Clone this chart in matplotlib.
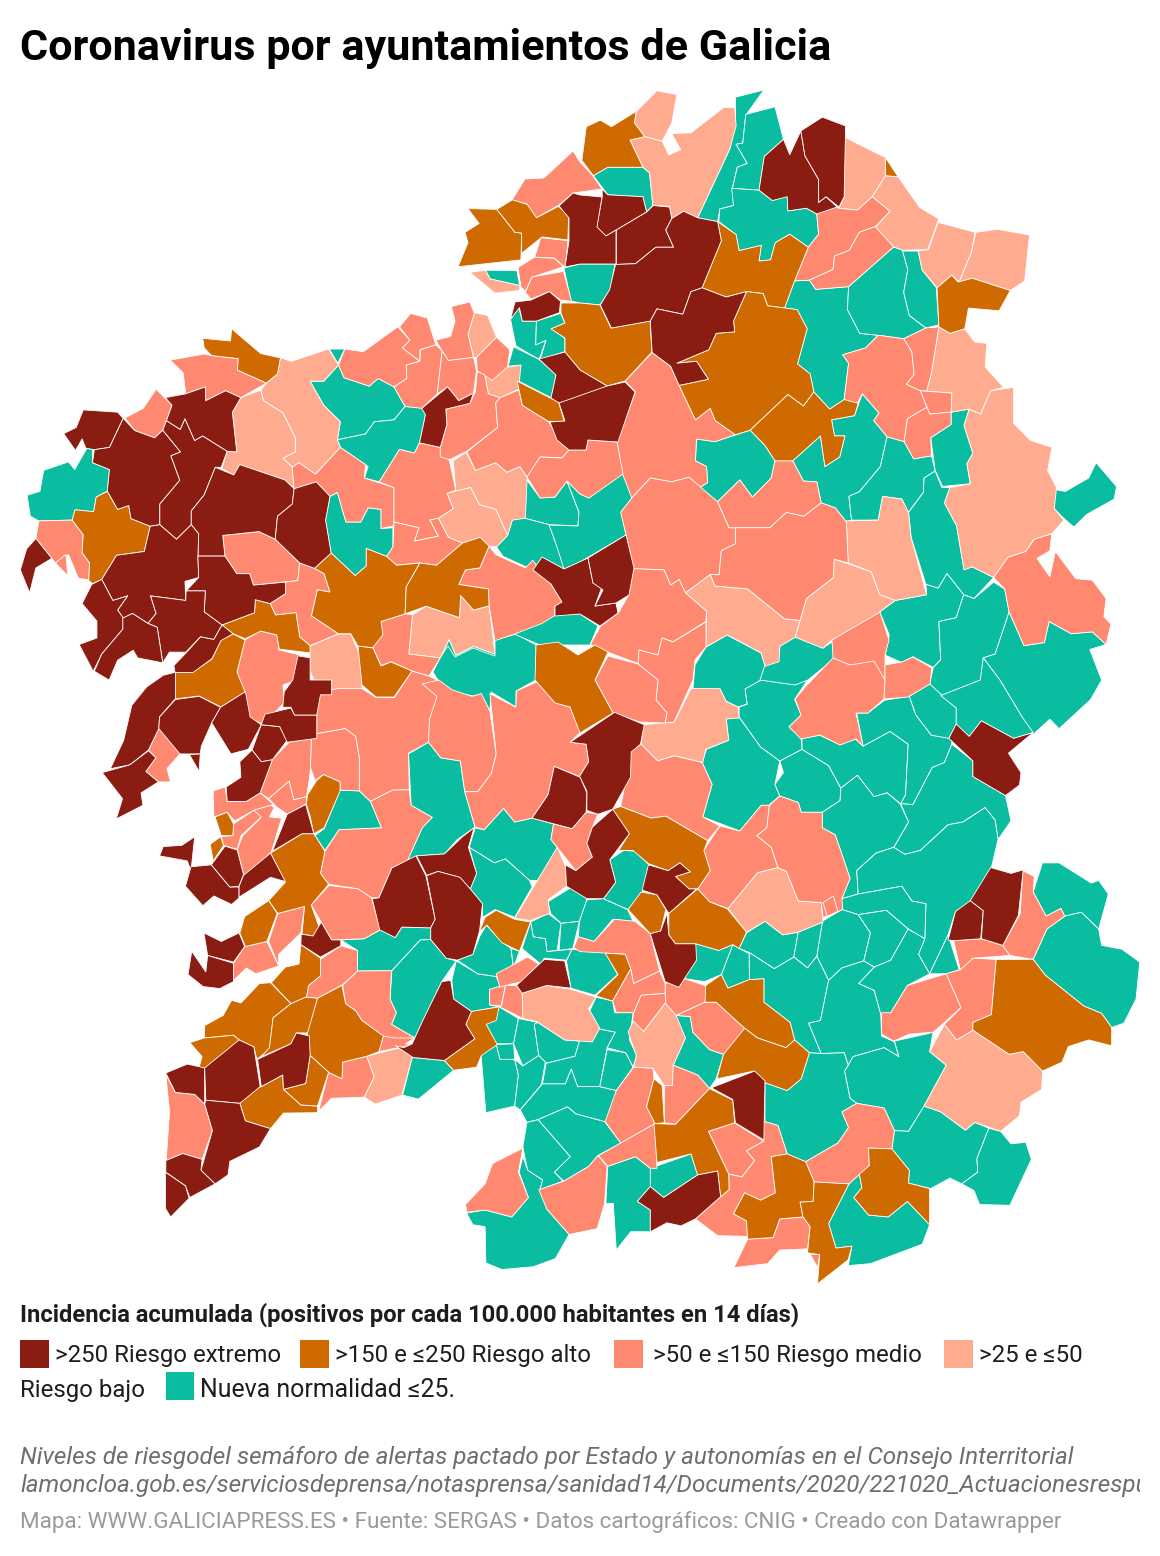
import numpy as np
import matplotlib
matplotlib.use('Agg')
import matplotlib.pyplot as plt
from matplotlib.collections import PolyCollection
from matplotlib.patches import Rectangle

# municipality outlines, traced as flat x,y lists from four map sheets
# every sheet has its own origin and scale, see SHEETS below

# ---------- north-west sheet
EXTREMO_NW = [
 [225,862,318,868,333,884,296,960,255,966,232,962,222,938,204,968,172,924,206,908],
 [333,884,364,916,418,935,440,915,488,972,462,982,486,1046,432,1108,432,1162,406,1166,354,1146,348,1112,318,1122,290,1074,296,1018,250,1000,255,966,296,960],
 [440,915,450,890,487,913,500,885,526,942,548,930,614,970,598,1012,582,1012,552,1084,517,1126,517,1162,477,1200,432,1162,432,1108,486,1046,462,982,488,972],
 [447,830,502,820,555,802,556,838,610,812,651,830,628,868,640,972,614,970,548,930,526,942,500,885,487,913,450,890,465,850],
 [582,1012,632,1032,648,1005,770,1045,795,1068,790,1108,750,1140,744,1200,700,1180,602,1190,608,1244,535,1244,537,1186,517,1162,517,1126,552,1084],
 [795,1068,855,1050,892,1088,880,1150,895,1236,850,1276,810,1262,744,1200,750,1140,790,1108],
 [406,1166,432,1162,477,1200,517,1162,537,1186,535,1244,537,1300,500,1310,502,1360,407,1348,422,1394,400,1420,358,1394,333,1406,318,1385,345,1348,305,1360,275,1305,315,1242,390,1232],
 [275,1305,305,1360,345,1348,318,1385,333,1406,332,1435,275,1500,252,1545,214,1475,262,1458,262,1414,222,1368,248,1318],
 [535,1244,608,1244,640,1290,675,1290,685,1320,772,1312,772,1342,730,1368,690,1358,688,1392,600,1424,552,1390,555,1335,503,1335,537,1300],
 [407,1348,502,1360,503,1335,555,1335,552,1390,600,1424,578,1462,542,1455,502,1495,458,1495,440,1523,425,1430,400,1420,422,1394],
 [332,1406,358,1394,400,1420,425,1430,440,1523,372,1510,360,1490,318,1516,295,1568,255,1545,275,1500,332,1435],
 [97,1198,140,1250,97,1275,80,1340,55,1280,72,1225],
 [1140,858,1210,802,1240,838,1280,818,1270,845,1205,860,1208,900,1190,960,1134,948,1150,875],
 [1392,580,1435,575,1485,553,1515,578,1512,608,1450,630,1412,630,1404,595,1380,625],
 [470,1530,500,1500,542,1455,578,1462,600,1424,630,1447,597,1465,573,1512,522,1548,473,1548],
]
ALTO_NW = [
 [548,675,623,682,626,650,705,715,758,726,750,768,720,792,642,758,644,728,572,720,552,700],
 [290,1075,318,1122,348,1112,354,1146,406,1166,390,1232,315,1242,275,1305,250,1316,240,1308,242,1262,222,1235,225,1188,195,1150,203,1123,253,1128,260,1090],
 [1265,336,1343,338,1392,398,1410,400,1408,470,1238,488,1265,425,1257,398,1295,375],
 [1343,338,1385,313,1425,325,1450,360,1510,330,1537,355,1535,418,1465,410,1410,453,1410,400,1392,398],
 [850,1276,895,1236,960,1295,990,1270,990,1224,1045,1245,1072,1268,1135,1262,1098,1325,1095,1395,1030,1415,1035,1450,1008,1483,968,1480,948,1447,915,1447,842,1400,858,1332,892,1338,876,1290],
 [1135,1262,1180,1268,1250,1210,1298,1195,1322,1218,1297,1275,1258,1280,1240,1318,1320,1330,1322,1374,1280,1385,1245,1347,1242,1405,1152,1375,1095,1395,1098,1325],
 [600,1424,688,1392,690,1358,730,1368,745,1398,800,1392,810,1455,838,1478,838,1497,755,1487,748,1450,705,1440,663,1460,630,1447],
 [1398,787,1510,842,1525,892,1482,892,1412,850],
]
MEDIO_NW = [
 [460,732,552,716,572,720,644,728,642,758,720,792,651,830,610,812,556,838,555,802,502,820,495,765],
 [338,883,387,858,422,808,465,850,440,915,418,935,364,916],
 [105,1152,195,1150,225,1188,222,1235,242,1262,240,1306,212,1302,185,1240,150,1262,140,1250,97,1198],
 [150,1262,178,1240,183,1295],
 [602,1190,700,1180,744,1200,810,1262,805,1308,685,1320,675,1290,640,1290,608,1244],
 [790,1012,808,1000,853,1030,920,960,988,1005,985,1040,1065,1065,1065,1165,1030,1172,1030,1122,995,1118,975,1155,935,1155,912,1078,892,1088,855,1050,795,1068],
 [810,1262,850,1276,876,1290,892,1338,858,1332,842,1400,915,1447,838,1478,810,1455,800,1392,745,1398,730,1368,772,1342,772,1312,805,1308],
 [1025,1050,1080,965,1120,975,1134,948,1190,960,1215,995,1232,1072,1208,1080,1225,1120,1185,1145,1162,1150,1185,1192,1120,1205,1132,1170,1065,1155,1065,1065],
 [1065,1155,1132,1170,1120,1205,1185,1192,1162,1150,1185,1145,1212,1195,1250,1210,1180,1268,1135,1262,1072,1268,1045,1245,1062,1220],
 [915,745,932,703,982,710,1075,645,1108,680,1088,700,1135,735,1098,745,1100,780,1065,802,1022,780,998,800,930,778],
 [1080,645,1110,610,1155,622,1178,692,1135,705,1135,735,1088,700,1108,680],
 [1065,802,1100,780,1098,745,1135,735,1137,705,1178,692,1195,708,1182,820,1140,858,1095,853],
 [1178,680,1218,670,1230,630,1220,592,1270,580,1282,610,1265,665,1280,725,1212,733,1195,708],
 [1195,708,1212,733,1280,725,1288,760,1280,818,1240,838,1210,802,1182,820],
 [1288,725,1342,672,1378,705,1372,750,1330,785,1290,760],
 [1290,762,1310,770,1320,820,1352,830,1340,843,1345,908,1262,970,1215,992,1190,985,1190,960,1208,900,1205,860,1270,845,1285,815],
 [1352,830,1402,810,1412,850,1482,892,1510,935,1538,968,1520,987,1460,985,1425,1038,1405,1010,1370,1025,1340,1000,1285,1020,1262,972,1345,908,1340,843],
 [1240,1318,1258,1280,1297,1275,1322,1218,1340,1240,1420,1275,1440,1255,1490,1318,1520,1365,1500,1375,1498,1400,1465,1420,1390,1448,1338,1465,1322,1374,1320,1330],
 [1008,1483,1030,1415,1095,1395,1115,1397,1105,1500,1190,1510,1160,1557,1115,1545,1058,1520,1030,1530],
 [1462,412,1535,420,1528,490,1498,465,1445,463],
 [1400,490,1445,463,1498,466,1523,488,1438,515,1420,552,1408,540],
 [1420,555,1438,515,1523,500,1545,578,1515,575,1485,553,1435,572],
]
BAJO_NW = [
 [705,810,720,792,750,768,758,726,788,735,888,703,915,745,875,787,838,787,875,850,920,893,912,940,920,960,853,1030,808,1000,790,1012,765,988,798,972,798,935,765,870,712,838],
 [628,868,651,830,705,810,712,838,765,870,798,935,798,972,765,988,790,1012,795,1068,770,1045,648,1005,632,1032,600,1015,614,970,640,972],
 [1225,995,1260,973,1285,1020,1340,1000,1370,1025,1405,1010,1425,1038,1420,1145,1385,1150,1372,1190,1340,1122,1296,1110,1272,1065,1210,1080,1232,1072],
 [1208,1080,1272,1065,1296,1110,1340,1122,1372,1190,1342,1220,1322,1218,1298,1195,1250,1210,1212,1195,1185,1145,1225,1120],
 [1115,1397,1152,1375,1242,1405,1245,1347,1280,1385,1322,1374,1338,1500,1280,1480,1232,1503,1214,1462,1190,1510,1105,1500],
 [1265,665,1282,608,1318,615,1342,672,1288,725,1280,725],
 [1310,770,1372,750,1408,745,1402,808,1352,830,1320,820],
 [1270,503,1312,497,1325,520,1405,537,1405,550,1338,557],
]
NORMAL_NW = [
 [118,1020,185,998,202,1018,235,962,250,966,250,1000,296,1018,290,1074,260,1090,253,1128,203,1123,195,1150,105,1152,82,1140,73,1085,108,1075],
 [838,787,875,787,915,745,930,778,998,800,1022,780,1065,802,1095,853,1065,888,1012,893,988,925,912,940,920,893,875,850],
 [890,703,932,703,913,740],
 [912,940,988,925,1012,893,1065,888,1095,853,1145,857,1150,875,1134,948,1120,975,1080,965,1025,1050,985,1040,995,1010,920,960],
 [892,1088,912,1078,935,1155,975,1155,995,1118,1030,1122,1030,1172,1062,1170,1062,1220,1045,1245,990,1224,990,1270,960,1295,895,1236,880,1150],
 [1312,497,1397,498,1405,537,1325,520],
 [1380,625,1402,595,1412,630,1450,630,1448,692,1476,680,1457,730,1395,695,1388,665],
 [1450,630,1515,610,1527,635,1490,650,1527,675,1527,710,1460,730,1476,680,1448,692],
 [1388,697,1457,730,1503,770,1490,830,1398,785,1408,745,1373,748],
 [1420,1040,1460,1092,1500,1090,1532,1048,1565,1130,1562,1165,1485,1162,1418,1145],
 [1342,1220,1372,1190,1385,1148,1418,1145,1485,1162,1500,1205,1568,1240,1525,1278,1465,1247,1442,1282,1422,1272,1360,1245],
 [1190,1510,1214,1462,1232,1503,1280,1480,1338,1500,1338,1465,1390,1448,1450,1478,1448,1568,1180,1568],
]

# ---------- north-east sheet
EXTREMO_NE = [
 [60,285,75,300,170,305,180,345,98,392,70,408,45,385,60,305],
 [98,392,180,345,198,328,242,332,248,362,232,392,253,437,205,437,150,480,98,482],
 [248,362,280,343,318,360,372,370,382,420,330,543,300,553,278,612,208,598,190,630,85,648,55,588,80,548,96,482,150,480,205,437,253,437,232,392],
 [330,543,395,567,450,553,415,630,418,658,368,662,348,705,262,740,315,735,347,782,268,798,245,748,195,712,190,630,208,598,278,612,300,553],
 [498,200,550,155,567,195,597,133,608,198,645,260,645,320,665,305,695,332,640,350,612,335,562,342,560,305,520,315,484,288],
 [597,133,655,97,718,120,714,305,700,332,665,305,645,320,645,260,608,198],
]
ALTO_NE = [
 [5,210,17,122,55,105,85,122,152,82,147,112,175,148,135,157,170,228,75,228,36,250],
 [826,203,860,253,826,250],
 [372,370,422,404,430,446,490,432,484,473,515,470,528,425,567,403,617,437,580,525,553,596,507,590,495,558,450,553,395,567,330,543,382,420],
 [965,543,1005,510,1022,528,1060,518,1163,550,1133,603,1050,596,1040,650,1000,662,970,645],
 [450,553,495,558,507,590,587,600,614,650,588,742,622,768,632,815,604,852,562,822,460,915,420,927,366,890,352,858,312,888,268,798,347,782,315,735,262,740,348,705,368,662,418,658,415,630],
 [460,915,562,822,604,852,632,815,675,860,714,835,752,845,742,877,680,888,688,930,716,930,702,985,662,1010,650,930,575,995,527,995,500,955],
]
MEDIO_NE = [
 [640,350,665,325,700,335,750,340,790,305,838,343,798,383,755,398,728,445,688,460,684,495,620,523,580,525,617,437,645,403],
 [798,383,848,436,726,540,637,547,620,523,684,495,688,460,728,445,755,398],
 [806,667,875,676,897,710,903,770,882,795,920,812,938,855,885,885,876,945,830,932,794,890,808,870,763,820,750,845,714,835,726,740,710,718,772,700],
 [875,676,935,648,970,645,950,765,937,813,920,812,882,795,903,770,897,710],
 [920,812,1005,818,1003,868,945,873,938,855],
 [885,885,938,855,945,873,1003,868,1003,900,948,935,950,982,902,990,876,945],
 [195,712,245,748,268,798,312,888,352,858,366,890,420,927,365,945,315,938,312,995,342,1010,345,1052,323,1065,295,1038,248,1050,190,1040,140,1092,115,1030,100,945,150,815,122,787],
 [110,1130,140,1092,190,1040,248,1050,295,1038,372,1102,403,1170,420,1170,420,1212,382,1230,376,1293,352,1292,285,1340,268,1305,245,1320,227,1280,145,1277,125,1190],
 [372,1102,432,1045,466,1090,517,1040,527,995,575,995,604,1048,640,1050,652,1105,605,1140,558,1130,513,1170,403,1170],
 [420,1170,513,1170,558,1130,605,1140,652,1105,690,1118,720,1155,725,1262,687,1252,685,1300,612,1355,595,1412,553,1408,453,1330,365,1322,352,1292,376,1293,382,1230,420,1212],
 [145,1277,227,1280,245,1320,268,1305,285,1340,342,1388,340,1415,252,1468,222,1458,210,1503,160,1490,158,1525,75,1495,28,1475,55,1428,104,1392,132,1345],
 [1118,1300,1157,1247,1205,1232,1228,1200,1275,1186,1270,1230,1235,1250,1270,1298,1285,1232,1340,1303,1385,1307,1422,1355,1416,1402,1435,1422,1422,1475,1385,1442,1328,1447,1268,1415,1255,1470,1200,1478,1160,1390,1148,1330],
]
BAJO_NE = [
 [147,112,152,82,208,28,262,38,248,112,222,160,175,148],
 [135,157,175,148,222,160,240,196,272,182,248,140,300,138,388,72,418,72,422,120,405,180,318,360,280,343,248,362,242,330,197,328,188,243,170,228],
 [716,150,826,203,826,250,790,305,750,340,700,335,714,305],
 [826,250,860,253,918,333,970,363,940,443,872,445,848,436,798,385,838,343,790,305],
 [968,372,1068,398,1058,450,1025,528,1005,510,965,543,925,497,914,447,942,443],
 [1070,398,1128,390,1215,405,1202,525,1163,550,1060,518,1025,528,1058,450],
 [970,645,1000,662,1040,650,1067,685,1100,688,1095,750,1145,803,1110,812,1083,873,1052,860,1003,868,1005,818,937,813,950,765],
 [1052,860,1083,873,1110,812,1172,803,1172,897,1218,942,1276,960,1264,1020,1288,1065,1282,1120,1308,1150,1275,1186,1227,1200,1205,1232,1157,1247,1118,1300,1060,1272,1038,1280,1018,1165,985,1105,1000,1065,1055,1055,1046,1003,1062,975,1038,903],
 [720,1152,806,1150,818,1088,870,1095,888,1130,895,1195,937,1345,852,1360,810,1345,787,1285,725,1262],
 [285,1340,352,1292,365,1322,453,1330,553,1408,595,1412,582,1456,540,1480,538,1520,500,1532,490,1497,398,1450,340,1482,342,1388],
 [595,1412,612,1355,685,1300,687,1252,787,1285,810,1345,852,1360,810,1390,752,1443,682,1462,657,1485,582,1456],
]
NORMAL_NE = [
 [36,250,75,228,170,228,188,243,197,328,180,345,170,305,75,300],
 [318,360,405,180,420,110,420,45,497,26,448,92,440,165,422,168,452,218,425,228,412,283,415,328,378,337,372,370],
 [448,90,527,70,550,155,498,200,484,288,412,283,425,228,452,218,422,168,440,165],
 [378,337,415,328,410,283,484,288,520,315,560,303,562,342,612,335,640,350,645,403,617,437,567,403,528,425,515,470,484,473,490,432,430,446,422,404,375,370],
 [580,525,620,523,637,547,726,540,723,600,756,662,806,667,772,700,710,718,726,740,714,835,675,860,632,815,622,768,588,742,614,650,587,600,553,596],
 [726,540,848,436,872,445,886,495,875,555,890,615,935,648,875,676,806,667,756,662,723,600],
 [872,447,914,447,925,497,963,542,970,640,935,648,890,615,875,555,886,495],
 [680,888,742,877,763,820,808,870,794,890,830,932,812,1010,755,1076,727,1088,734,1150,720,1155,690,1118,652,1105,640,1050,604,1048,575,995,650,930,662,1010,702,985,716,930,688,930],
 [830,932,876,945,902,990,950,982,960,1022,930,1040,928,1078,887,1130,870,1095,818,1088,806,1150,734,1150,727,1088,755,1076,812,1010],
 [1003,900,1003,868,1052,860,1038,903,1062,975,1046,1003,1055,1055,980,1062,960,1020,948,935],
 [888,1130,928,1078,930,1040,960,1022,978,1065,1000,1065,985,1105,1018,1165,1038,1280,1060,1272,1118,1300,1065,1355,1037,1345,992,1290,968,1328,935,1318,895,1195],
 [315,938,365,945,460,915,500,955,527,995,517,1040,466,1090,432,1045,372,1102,323,1065,345,1052,342,1010,312,995],
 [1282,1070,1312,1075,1375,1040,1395,1000,1450,1062,1444,1095,1370,1135,1335,1168,1305,1143,1282,1120],
 [810,1390,852,1360,937,1345,935,1318,968,1328,992,1290,1037,1345,1017,1405,970,1415,975,1515,955,1535,900,1507,870,1522,825,1503,836,1450],
 [1037,1345,1065,1355,1118,1312,1148,1330,1160,1390,1122,1500,1090,1510,1083,1568,975,1609,945,1578,955,1535,975,1515,970,1415,1017,1405],
 [1160,1390,1200,1478,1255,1470,1268,1415,1328,1447,1385,1442,1422,1475,1378,1488,1410,1568,1380,1619,1295,1695,1270,1670,1225,1710,1195,1665,1135,1568,1090,1510,1122,1500],
]

# ---------- south-west sheet
EXTREMO_SW = [
 [82,228,118,155,140,65,180,18,225,-12,258,-20,258,48,215,95,213,125,185,180,135,218],
 [215,95,258,50,322,42,380,70,356,110,328,170,325,190,270,190,213,125],
 [380,70,447,30,460,95,490,115,455,178,408,190,356,110],
 [60,238,135,218,185,182,205,200,178,235,212,262,165,290,170,322,98,357,115,305],
 [296,192,325,190,322,235],
 [490,115,540,120,560,155,520,205,490,210,465,180],
 [500,88,570,72,580,90,640,90,640,150,560,160,540,120,490,115],
 [548,70,552,30,575,0,589,-62,622,-57,622,0,680,0,680,38,650,38,640,90,580,90,570,70],
 [395,275,435,250,432,210,465,180,490,210,520,205,487,290,450,312,398,312],
 [215,452,225,428,275,425,310,403,300,490,290,465],
 [285,530,300,480,355,475,405,532,430,532,430,560,410,577,362,555,332,580],
 [355,475,392,427,425,437,442,500,430,530,405,532],
 [430,530,442,502,515,445,555,518,515,507,430,558],
 [520,440,560,345,610,320,632,395,600,395],
 [335,650,382,672,430,650,445,685,415,725,345,708],
 [302,697,340,750,345,708,415,728,415,775,378,793,333,788,292,757],
 [597,680,650,712,705,683,705,668,680,668,652,622,630,658,598,653],
 [790,562,808,560,843,483,908,452,935,503,960,615,948,637,870,635,852,662,810,642],
 [910,452,985,447,1035,402,1065,380,1050,430,1072,497,1055,537,1025,507,968,492,937,502],
 [948,637,960,615,937,503,968,492,1027,507,1055,537,1088,575,1080,645,1062,705,1020,720,990,715,948,667],
 [232,1010,290,987,337,997,337,1090,310,1065,258,1060],
 [337,997,430,925,470,943,487,1045,432,1088,340,1080],
 [480,975,570,935,585,907,620,915,622,965,610,1037,550,1052,548,1015,490,1045],
 [337,1090,340,1080,432,1088,447,1133,515,1153,485,1200,405,1237,400,1272,365,1295,327,1260,358,1158],
 [232,1235,278,1217,330,1232,327,1260,365,1295,297,1330,285,1300,232,1265],
 [231,1265,285,1300,295,1332,245,1380,231,1358],
 [875,945,898,935,905,920,928,872,978,775,1002,772,1010,820,1058,852,1043,885,1067,922,985,978,900,970,853,940],
 [1180,785,1255,718,1310,722,1327,792,1262,785,1195,805],
 [1325,160,1445,83,1525,115,1515,165,1490,185,1488,250,1440,332,1400,345,1370,335,1370,285,1350,248,1375,210,1368,165],
 [1222,355,1265,295,1282,222,1352,250,1370,290,1368,340,1330,382],
 [1440,332,1485,395,1432,462,1448,520,1415,562,1370,562,1315,530,1312,475,1340,490,1385,455,1370,420,1385,378],
]
ALTO_SW = [
 [600,395,632,395,662,440,650,497,672,525,625,578,650,645,632,658,600,653,607,582,535,600,510,567,555,520,515,445],
 [445,608,510,567,533,600,505,672,447,685,432,650],
 [622,350,612,320,615,295,640,258,658,243,703,262,703,285,660,380,632,395],
 [365,352,398,340,415,370,413,400,382,400],
 [352,422,380,403,388,425,360,465],
 [517,778,555,738,592,730,597,680,650,715,650,760,618,785,612,815,570,832],
 [337,888,387,862,410,823,435,830,485,780,515,778,570,832,522,868,512,950,478,975,470,943,430,925,415,913,336,920],
 [522,868,570,832,610,815,642,818,617,907,585,907,570,935,490,968,512,945],
 [642,818,708,785,718,832,745,850,762,875,820,915,808,955,775,967,710,982,708,1025,672,1008,622,965,615,907],
 [297,932,336,920,415,913,430,925,375,1007,322,995,330,968],
 [432,1088,460,1052,490,1045,548,1015,550,1052,597,1092,642,1095,642,1112,550,1113,515,1153,447,1133],
 [550,1052,610,1037,622,965,672,1008,642,1095,597,1092],
 [985,978,1067,922,1043,885,1058,852,1133,840,1125,875,1098,885,1128,937,1085,965,1072,995,1010,1003],
 [1080,645,1095,610,1125,592,1175,615,1218,622,1188,697,1140,675,1100,630,1082,645],
]
MEDIO_SW = [
 [640,30,700,22,762,22,800,45,850,45,897,-23,943,-10,965,0,985,25,970,42,945,100,942,160,888,188,890,282,845,283,785,312,755,285,755,200,745,145,717,125,640,138],
 [640,138,717,125,745,145,755,200,755,285,703,283,703,262,658,243,635,258,623,225,625,150],
 [942,160,945,100,965,42,925,10,970,0,1005,25,1060,42,1085,35,1108,80,1125,190,1112,240,1075,287,1040,287,1028,208,975,200],
 [1108,35,1178,70,1180,28,1235,5,1285,58,1325,70,1352,135,1325,160,1368,165,1375,210,1350,248,1282,222,1265,295,1222,355,1175,365,1145,330,1092,385,1068,378,1040,287,1075,287,1112,240,1125,190],
 [785,312,845,283,890,282,895,322,952,353,925,380,885,465,843,483,808,560,788,560,752,537,673,525,650,497,662,440,700,385,815,380],
 [625,578,673,528,752,537,788,560,812,642,768,665,680,668,652,622],
 [625,150,565,160,520,205,487,290,510,305,565,260,578,308,612,300,620,255,623,225],
 [360,285,392,275,398,312,450,312,487,290,523,320,470,335,418,362,398,340,362,352],
 [510,305,565,260,578,308,612,300,612,318,560,345,530,325],
 [425,435,440,400,488,355,470,335,515,322,525,328,512,352,545,355,517,442,455,503,442,500],
 [415,370,470,335,490,352,435,400,425,435,388,425,382,402,413,400],
 [215,120,270,190,235,228,245,262,212,262,178,235,205,200,185,180],
 [510,672,535,600,607,582,597,650,537,705,537,735],
 [415,728,445,685,505,672,537,735,475,755,450,740,415,772],
 [612,815,618,785,650,760,650,718,705,683,750,695,750,748,710,783,642,818],
 [710,785,750,748,842,747,838,820,855,855,842,885,905,920,850,925,818,915,762,875,745,850,718,832],
 [645,1108,680,1075,768,1072,795,1020,775,967,710,982,708,1025,672,1008],
 [232,1015,258,1060,310,1065,337,1090,358,1158,330,1232,278,1217,233,1235,242,1110],
 [1107,795,1140,785,1150,785,1138,838,1107,835],
 [1125,755,1210,712,1240,730,1195,775,1150,785,1135,790],
 [1140,835,1150,785,1180,785,1195,805,1197,870,1135,840],
 [1240,1310,1308,1288,1375,1250,1400,1222,1425,1250,1418,1345,1398,1410,1322,1425,1262,1360],
 [1042,1348,1095,1295,1115,1243,1197,1203,1185,1265,1212,1330,1167,1380,1095,1362,1046,1368],
 [808,955,820,915,850,920,905,920,880,935,895,938],
 [1273,410,1280,370,1330,382,1368,340,1400,345,1385,378,1370,420,1385,455,1340,490,1290,430],
]
BAJO_SW = [
 [768,1072,795,1020,775,967,895,938,898,970,870,1067,798,1090],
 [1175,612,1290,430,1313,480,1315,530,1265,565,1270,600,1218,618],
 [1195,805,1262,785,1327,795,1395,815,1375,845,1405,895,1385,930,1310,925,1235,878,1197,870],
]
NORMAL_SW = [
 [888,190,942,160,975,200,1028,208,1040,287,1068,378,1020,410,985,447,910,452,882,468,925,380,952,353,895,322],
 [660,382,703,283,755,285,785,312,815,380,700,385,662,438,635,400],
 [1068,380,1092,385,1145,330,1175,365,1222,355,1280,370,1273,410,1290,430,1250,515,1215,515,1150,460,1120,470,1052,430],
 [1052,430,1120,470,1150,460,1215,515,1222,532,1175,610,1122,590,1088,610,1088,575,1055,537,1072,497],
 [705,668,768,665,812,642,852,662,870,635,948,637,948,667,920,668,843,747,750,748,750,695],
 [843,747,920,668,948,667,990,715,1017,722,978,775,905,920,842,885,855,855,838,820],
 [1017,722,1075,755,1125,762,1138,790,1107,795,1107,835,1133,840,1058,852,1010,820,1005,772],
 [1020,720,1062,705,1080,660,1098,630,1140,672,1165,690,1172,745,1125,762,1075,755],
 [1165,690,1188,697,1172,738],
 [1218,622,1265,600,1300,625,1290,695,1262,698,1258,665,1225,660],
 [1300,625,1350,620,1332,690,1295,695],
 [1265,570,1350,520,1370,565,1350,620,1300,625,1272,600],
 [1195,690,1218,622,1225,660,1258,665,1262,698,1295,695,1330,692,1315,720,1255,715,1245,730],
 [1315,722,1330,692,1420,700,1453,757,1392,810,1327,792],
 [1350,620,1370,565,1415,562,1480,590,1495,620,1440,615,1390,672,1347,660],
 [1415,562,1448,520,1432,462,1470,438,1500,440,1538,475,1520,545,1482,590],
 [1098,885,1133,840,1185,870,1172,935,1125,935],
 [1125,937,1172,935,1175,975,1135,975],
 [1185,870,1237,880,1228,885,1240,965,1197,992,1172,935],
 [1237,880,1310,925,1350,928,1338,967,1260,985,1240,965,1228,885],
 [1083,950,1125,937,1135,975,1175,975,1185,1015,1175,1095,1097,1112],
 [1175,975,1197,992,1240,965,1258,982,1247,1040,1190,1105,1175,1095,1185,1015],
 [1260,985,1338,967,1350,928,1405,897,1447,905,1425,945,1405,1045,1345,1045,1328,1000,1312,1038,1250,1038],
 [1250,1038,1312,1038,1328,1000,1345,1045,1405,1045,1450,1055,1442,1115,1418,1135,1340,1115,1318,1097,1238,1130,1208,1137,1190,1105],
 [1238,1130,1318,1097,1340,1115,1418,1135,1462,1190,1400,1222,1375,1250,1308,1288,1282,1265,1325,1225],
 [1208,1137,1238,1130,1325,1225,1282,1265,1305,1288,1243,1310,1250,1285,1210,1260,1197,1200],
 [1378,850,1395,815,1440,825,1445,855,1495,855,1485,925,1505,965,1495,995,1475,958,1425,945,1447,905,1405,897],
 [1405,1045,1425,950,1475,958,1495,995,1450,1055],
 [1045,1370,1095,1362,1167,1380,1212,1330,1187,1265,1197,1225,1210,1260,1250,1285,1243,1310,1262,1360,1322,1425,1285,1487,1225,1508,1140,1515,1097,1498,1095,1405,1062,1400],
 [898,970,985,978,1010,1003,915,1077,872,1067],
]

# ---------- south-east sheet
EXTREMO_SE = [
 [185,475,238,490,270,470,298,493,258,505,295,537,315,537,240,600,208,552,168,540],
 [235,600,240,655,258,678,313,678,315,720,267,790,230,775,190,652,218,645],
 [1017,113,1052,145,1085,105,1172,150,1225,135,1158,188,1192,238,1188,270,1150,297,1062,248,1062,208,997,150],
 [995,668,1015,595,1055,567,1090,593,1083,665,1010,670],
 [1055,567,1110,482,1165,497,1198,488,1185,605,1143,682,1085,665,1090,593],
 [355,1048,472,1005,500,1030,497,1182,420,1138,413,1078],
 [155,1340,190,1302,226,1330,318,1272,372,1262,380,1328,312,1385,273,1403,235,1395,190,1418,190,1362],
]
ALTO_SE = [
 [110,325,192,355,232,350,345,413,335,438,352,490,318,537,295,537,258,505,298,493,270,470,238,490,185,472,143,438,105,438,133,395,88,332],
 [240,600,318,537,350,570,398,588,450,648,430,690,413,680,375,695,313,678,258,678,240,655],
 [130,590,165,545,208,552,232,590,218,645,190,652],
 [340,785,382,757,400,792,458,770,497,768,497,828,568,880,580,925,557,945,480,920,445,895,368,828,338,828],
 [445,895,480,920,557,945,580,925,620,958,598,1025,560,1055,500,1035,470,1005,370,1025,388,962],
 [68,702,122,705,137,742,88,825,43,812,103,757],
 [1062,880,1112,860,1125,718,1225,718,1257,758,1362,838,1410,857,1437,893,1437,940,1375,925,1320,942,1303,982,1250,1005,1198,955,1160,962,1062,900],
 [200,1140,258,1142,350,1050,413,1080,418,1138,347,1160,402,1270,403,1310,380,1328,372,1262,318,1272,300,1218,208,1240],
 [180,1097,200,1025,222,1042,228,1138,203,1140],
 [780,1203,843,1205,890,1260,888,1293,945,1307,945,1400,885,1340,833,1380,780,1375,740,1330,762,1305,755,1270,782,1248],
 [517,1225,560,1218,610,1238,633,1290,630,1340,595,1342,603,1380,540,1385,522,1433,453,1437,450,1390,415,1372,445,1318,488,1337,528,1318],
 [633,1290,727,1295,672,1397,692,1460,735,1455,725,1490,642,1552,648,1477,615,1472,622,1405,603,1380,595,1342,630,1340],
]
MEDIO_SE = [
 [340,430,378,375,432,388,490,322,512,322,505,380,478,400,517,430,535,482,480,495,400,587,350,570,318,537,352,490,335,438],
 [512,322,540,298,590,315,598,340,655,340,655,380,690,398,730,510,708,562,710,590,675,605,657,610,652,572,590,568,558,492,535,482,517,430,478,400,505,380],
 [657,572,685,555,697,595,668,607],
 [230,780,285,768,352,790,338,828,260,862,230,830],
 [145,855,165,810,230,805,232,828,172,903,142,875],
 [260,862,338,828,368,828,445,895,428,950,388,962,350,950,305,905,298,865],
 [-17,688,-5,660,38,672,93,615,148,620,190,652,215,748,145,780,137,742,122,705,0,698],
 [88,825,137,742,145,780,215,748,230,780,230,805,165,810,145,855,98,855],
 [68,1135,98,1055,145,995,197,998,200,1025,180,1097,203,1140,110,1190],
 [228,1043,250,1042,252,990,318,1015,350,1050,258,1142,228,1138],
 [815,855,840,855,885,785,990,755,1030,842,955,905,890,910,848,928,815,910],
 [990,755,1025,745,1062,715,1125,718,1112,860,1062,880,1062,900,1018,925,985,885,1030,842],
 [1010,670,1085,665,1143,682,1162,708,1062,715,1028,745],
 [1143,682,1190,600,1197,490,1228,505,1225,545,1260,607,1300,587,1310,607,1262,640,1225,718,1162,708],
 [610,1238,697,1190,726,1150,708,1110,748,1088,822,1100,850,1158,843,1205,780,1203,782,1248,727,1295,660,1292,633,1290],
 [347,1160,418,1138,497,1185,450,1210,472,1235,438,1277,402,1270],
 [418,1138,500,1135,535,1145,560,1218,517,1225,528,1318,488,1337,445,1318,415,1372,450,1390,453,1430,372,1428,312,1385,380,1328,403,1310,402,1270,438,1277,472,1235,450,1210,497,1185],
 [50,1222,110,1190,203,1140,208,1255,190,1255,150,1225,75,1250],
 [453,1437,522,1433,540,1385,603,1380,622,1405,615,1462,540,1465,507,1500,416,1510],
 [622,1475,648,1477,642,1510],
 [110,325,140,180,165,165,210,208,255,195,330,212,357,268,332,352,378,375,345,413,232,350,192,355],
]
BAJO_SE = [
 [165,165,170,115,255,108,300,22,378,22,395,55,428,70,430,98,395,100,402,155,340,178,332,212,255,195,210,208],
 [400,587,480,495,535,482,558,492,590,568,652,572,657,622,590,648,548,655,500,620,450,648],
 [145,875,172,903,232,828,260,862,285,920,252,990,250,1042,228,1043,197,998,145,995,152,965,130,905],
 [945,955,985,885,1018,925,1062,900,1160,962,1198,955,1250,1005,1248,1052,1192,1085,1188,1120,1137,1160,1067,1137,1042,1157,975,1110,930,1095,990,990],
]
NORMAL_SE = [
 [430,95,488,172,540,208,527,268,540,298,510,322,490,322,432,388,332,352,357,268,330,212,342,178,402,155,395,100],
 [540,208,600,178,672,220,705,278,703,310,655,340,598,340,590,315,540,298,527,268,550,238],
 [600,150,648,142,702,166,745,152,765,170,838,132,887,165,880,295,867,318,830,290,795,300,750,245,705,278,672,220,600,178],
 [430,70,452,62,445,22,490,0,580,12,615,0,580,50,598,90,565,120,598,150,600,178,540,208,488,172,430,95],
 [748,85,778,85,823,52,890,42,908,90,950,142,1005,150,1005,165,985,212,952,225,900,320,867,318,880,295,887,165,838,132,765,170],
 [890,42,945,10,1017,72,1017,115,997,150,950,142,908,90],
 [1090,-57,1135,0,1195,95,1225,135,1172,150,1085,105,1052,145,1017,115,1017,72,975,40,1082,0],
 [1005,165,1062,208,1062,248,1150,297,1165,362,1130,410,1122,360,1095,328,1035,365,995,372,920,438,878,448,848,430,888,365,867,318,900,320,952,225,985,212],
 [655,340,703,310,705,278,750,245,795,300,830,290,865,318,888,365,848,430,800,445,748,490,752,550,708,562,730,510,690,398,655,380],
 [748,490,800,445,848,430,878,448,920,438,995,372,1035,365,1095,328,1122,360,1130,410,1110,490,1078,560,1015,595,995,655,945,755,915,705,932,665,935,575,897,568,870,530,752,550],
 [708,562,752,550,870,530,897,568,935,575,932,665,887,640,828,592,752,603,708,590],
 [708,590,752,603,785,650,767,722,708,740,672,772,640,710,655,620],
 [752,603,828,592,887,640,840,720,795,738,767,722,785,650],
 [887,640,932,665,915,705,945,755,885,785,840,855,813,860,795,798,753,780,795,738,840,720],
 [945,755,995,655,1025,745,990,755],
 [450,650,500,620,548,655,590,648,578,712,525,742,457,700,430,690],
 [590,648,655,622,640,710,615,740,578,712],
 [457,700,525,742,578,712,615,740,640,710,672,772,650,875,618,882,652,960,620,958,580,925,568,880,497,828,497,768,458,770],
 [413,680,430,690,457,703,458,770,400,792,382,757],
 [285,750,313,678,375,695,413,680,382,757,337,775,285,768],
 [672,772,708,740,767,722,795,738,753,780,795,798,813,860,815,915,850,930,862,968,822,945,738,968,725,990,714,958,652,960,618,882,650,875],
 [725,990,738,968,822,945,862,968,850,928,945,908,955,900,945,955,990,990,930,1095,888,1160,850,1158,822,1100,748,1088,730,1075,715,1005],
 [620,958,652,960,714,958,725,990,715,1005,730,1075,748,1088,708,1110,726,1150,697,1190,610,1238,560,1218,535,1145,500,1135,500,1035,560,1055,598,1025],
 [850,1158,888,1160,930,1095,975,1110,1042,1157,1067,1137,1105,1152,1073,1230,1075,1265,1032,1295,1000,1280,948,1307,888,1293,890,1260,843,1205],
 [1105,1152,1137,1160,1165,1192,1205,1188,1220,1232,1162,1350,1080,1348,1065,1312,1032,1295,1075,1265,1073,1230],
 [1225,545,1250,470,1295,470,1382,522,1402,515,1428,550,1402,640,1355,597,1310,607,1300,587,1260,607],
 [1225,718,1262,640,1310,607,1355,597,1402,640,1410,682,1465,692,1513,725,1503,820,1470,882,1437,893,1410,857,1362,838,1257,758],
 [755,1270,762,1305,740,1330,780,1375,833,1380,885,1340,945,1400,925,1450,785,1500,725,1505,735,1455,692,1460,672,1397,727,1295],
 [190,1255,300,1218,318,1272,226,1330,190,1302],
 [75,1250,150,1225,190,1255,190,1302,155,1340,190,1362,190,1418,137,1418,98,1465,90,1345,70,1345],
 [255,862,298,865,305,905,350,950,388,962,368,1025,350,1050,318,1015,252,990,285,920],
]

# ---------- outlines that run over a sheet border, plain picture pixels
EXTREMO_PX = [
 [539,359,565,352,580,370,607,386,602,397,559,403,551,398,556,375],
 [559,403,607,386,625,382,635,392,618,442,588,440,586,450,569,450,557,440,550,422,565,421],
 [580,195,602,197,597,227,606,236,616,230,616,264,580,264,565,267,569,241,569,218,559,206,573,193],
 [533,570,542,557,564,569,588,558,593,583,603,584,595,606,616,603,618,613,600,626,580,614,555,616,555,606,562,602,551,584],
 [588,558,626,535,634,568,629,595,616,603,595,606,603,590,593,583],
]
ALTO_PX = [
 [175,672,193,672,212,659,221,640,233,634,245,640,237,672,245,692,221,707,199,696,175,699],
 [358,646,373,648,381,666,391,662,412,671,394,697,376,697,362,685],
 [561,303,580,303,600,305,611,328,650,321,652,352,625,381,607,386,580,370,565,352,565,338,551,329,565,323,561,313],
 [536,645,558,642,578,655,595,645,608,652,595,680,613,713,580,733,570,707,555,703,535,680],
]
MEDIO_PX = [
 [237,672,245,640,260,631,277,635,279,650,300,655,296,680,283,685,284,703,263,724,250,719,243,692],
 [527,477,540,457,562,458,569,450,586,450,588,440,617,442,623,474,589,498,580,494,567,481,555,497,540,498],
 [512,200,525,179,544,178,573,151,580,162,593,176,602,189,573,193,559,205,536,218,527,204],
 [638,664,639,650,658,655,662,638,673,642,706,622,706,647,695,660,693,680,674,722,665,723,667,713,656,700,658,680],
 [608,656,638,664,658,680,656,700,667,713,665,723,640,722,613,713,595,680],
 [832,640,880,612,889,640,885,655,885,680,833,658],
 [833,658,850,665,874,661,885,680,884,699,868,713,856,713,863,746,856,739,840,745,820,735,801,739,789,727,801,715,795,699,806,686],
 [885,680,885,665,902,662,913,657,932,668,930,684,908,697,884,699],
]
BAJO_PX = [
 [310,646,338,634,351,634,361,658,362,690,318,692,310,670],
]
NORMAL_PX = [
 [433,672,440,658,448,646,455,657,473,648,495,656,495,640,516,634,536,645,536,680,516,691,516,707,491,692,490,711,481,694,473,696,444,690],
 [514,634,555,615,580,614,598,626,590,645,540,645],
 [564,268,580,264,615,264,610,290,600,305,580,303,571,301],
 [567,481,580,494,589,498,615,474,623,474,632,498,621,512,626,535,580,562,564,569,555,541,549,525,578,526,579,512],
 [695,665,706,647,727,635,761,653,765,665,761,680,745,689,747,704,738,707,726,701,720,689,709,695,693,688],
 [780,646,795,637,823,648,832,642,835,658,808,680,795,685,760,680,765,665,778,660],
]

LEVEL_COLORS = ['#0BBDA0', '#FFAB90', '#FF8870', '#CE6A00', '#8A1C12']

LEGEND_TITLE = 'Incidencia acumulada (positivos por cada 100.000 habitantes en 14 días)'
LEGEND_LABELS = ['>250 Riesgo extremo', '>150 e ≤250 Riesgo alto', '>50 e ≤150 Riesgo medio', '>25 e ≤50']
LEGEND_WRAPPED = 'Riesgo bajo'
LEGEND_LAST = 'Nueva normalidad ≤25.'
LEGEND_COLORS = ['#8A1C12', '#CE6A00', '#FF8870', '#FFAB90', '#0BBDA0']

TITLE = 'Coronavirus por ayuntamientos de Galicia'
NOTE_1 = 'Niveles de riesgodel semáforo de alertas pactado por Estado y autonomías en el Consejo Interritorial'
NOTE_2 = 'lamoncloa.gob.es/serviciosdeprensa/notasprensa/sanidad14/Documents/2020/221020_Actuacionesrespu'
CREDIT = 'Mapa: WWW.GALICIAPRESS.ES • Fuente: SERGAS • Datos cartográficos: CNIG • Creado con Datawrapper'

# sheet origin in the picture and sheet units per pixel
SHEETS = {'NW': (0, 80, 2.703, 2.613), 'NE': (580, 80, 2.703, 2.613),
          'SW': (80, 680, 2.703, 2.57), 'SE': (580, 680, 2.703, 2.57),
          'PX': (0, 0, 1, 1)}


def to_picture(flat, sheet):
    x0, y0, sx, sy = SHEETS[sheet]
    pts = np.array(flat, dtype=float).reshape(-1, 2)
    return np.column_stack([x0 + pts[:, 0] / sx, y0 + pts[:, 1] / sy])


levels = [
    {'NW': NORMAL_NW, 'NE': NORMAL_NE, 'SW': NORMAL_SW, 'SE': NORMAL_SE, 'PX': NORMAL_PX},
    {'NW': BAJO_NW, 'NE': BAJO_NE, 'SW': BAJO_SW, 'SE': BAJO_SE, 'PX': BAJO_PX},
    {'NW': MEDIO_NW, 'NE': MEDIO_NE, 'SW': MEDIO_SW, 'SE': MEDIO_SE, 'PX': MEDIO_PX},
    {'NW': ALTO_NW, 'NE': ALTO_NE, 'SW': ALTO_SW, 'SE': ALTO_SE, 'PX': ALTO_PX},
    {'NW': EXTREMO_NW, 'NE': EXTREMO_NE, 'SW': EXTREMO_SW, 'SE': EXTREMO_SE, 'PX': EXTREMO_PX},
]

plt.rcParams['font.family'] = ['Roboto', 'DejaVu Sans']

fig = plt.figure(figsize=(11.6, 15.56), dpi=100)
ax = fig.add_axes([0, 0, 1, 1])
ax.set_xlim(0, 1160)
ax.set_ylim(1556, 0)
ax.axis('off')

# draw low levels first, the higher ones sit on top of any small overlap
for ii, level in enumerate(levels):
    polys = []
    for sheet, shapes in level.items():
        polys += [to_picture(s, sheet) for s in shapes]
    ax.add_collection(PolyCollection(polys, facecolors=LEVEL_COLORS[ii], edgecolors='#ffffff',
                                     linewidths=0.6, alpha=1, zorder=2 + ii))

ax.text(20, 60, TITLE, fontsize=31.1, fontweight='bold', color='#000000', va='baseline')

ax.text(20, 1322, LEGEND_TITLE, fontsize=17.13, fontweight='bold', color='#1d1d1d', va='baseline')

swatch_x = [20, 300, 614, 944]
label_x = [55, 335, 653, 979]
for x, tx, lab, col in zip(swatch_x, label_x, LEGEND_LABELS, LEGEND_COLORS[:4]):
    ax.add_patch(Rectangle((x, 1340), 29, 28, facecolor=col, edgecolor='none'))
    ax.text(tx, 1362, lab, fontsize=17.25, color='#1d1d1d', va='baseline')
ax.text(20, 1397, LEGEND_WRAPPED, fontsize=17.3, color='#1d1d1d', va='baseline')
ax.add_patch(Rectangle((166, 1372), 28, 28, facecolor=LEGEND_COLORS[4], edgecolor='none'))
ax.text(200, 1397, LEGEND_LAST, fontsize=17.95, color='#1d1d1d', va='baseline')

ax.text(20, 1464, NOTE_1, fontsize=17.45, style='italic', color='#6e6e6e', va='baseline')
note = ax.text(20, 1492, NOTE_2, fontsize=17.45, style='italic', color='#6e6e6e', va='baseline')
note.set_clip_path(Rectangle((0, 1460), 1140, 50, transform=ax.transData))
note.set_clip_on(True)
ax.text(20, 1528, CREDIT, fontsize=16.1, color='#9a9a9a', va='baseline')

fig.savefig('out.png', dpi=100)
